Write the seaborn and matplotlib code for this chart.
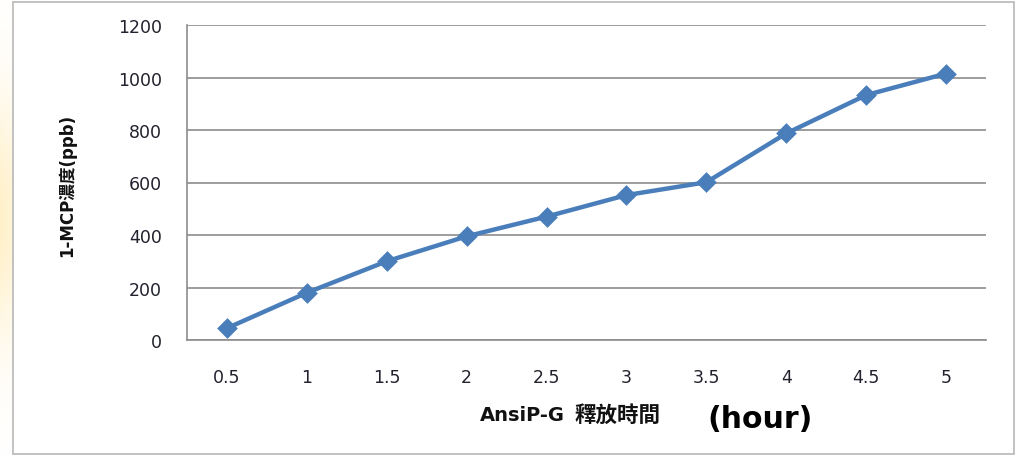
import matplotlib
matplotlib.use("Agg")
import matplotlib.pyplot as plt
import seaborn as sns
import pandas as pd
import numpy as np
from matplotlib.patches import Rectangle

# Release time (hour) and measured 1-MCP concentration (ppb)
hours = ["0.5", "1", "1.5", "2", "2.5", "3", "3.5", "4", "4.5", "5"]
conc_ppb = [45, 180, 300, 395, 470, 552, 601, 787, 933, 1015]
y_ticks = [0, 200, 400, 600, 800, 1000, 1200]

df = pd.DataFrame({"hour": hours, "ppb": conc_ppb})

sns.set_theme(style="white")
plt.rcParams["font.family"] = ["DejaVu Sans", "Noto Sans CJK TC"]

W, H = 1015, 456
fig = plt.figure(figsize=(W / 100, H / 100), dpi=100)

# soft warm glow on the slide background at the far left
bg = fig.add_axes([0, 0, 1, 1], zorder=-5)
bg.set_axis_off()
yy, xx = np.mgrid[0:H, 0:W]
glow = np.exp(-(((xx + 30) / 60.0) ** 2 + ((yy - 220) / 120.0) ** 2))
rgba = np.ones((H, W, 4))
rgba[..., 0] = 1.0
rgba[..., 1] = 0.88
rgba[..., 2] = 0.55
rgba[..., 3] = 0.6 * glow
bg.imshow(rgba, extent=[0, W, H, 0], aspect="auto")
bg.set_xlim(0, W)
bg.set_ylim(H, 0)

# chart frame
fig.patches.append(Rectangle((13 / W, 1 / H), 1001 / W, 452 / H,
                             transform=fig.transFigure, facecolor="white",
                             edgecolor="#b8b8b8", linewidth=1.2, zorder=-4))

ax = fig.add_axes([187 / W, (H - 341) / H, (986 - 187) / W, (341 - 26) / H])
ax.set_facecolor("none")

sns.pointplot(data=df, x="hour", y="ppb", ax=ax, color="#4a7ebb",
              markers="D", linestyles="-", errorbar=None,
              markersize=8, linewidth=3.2)

ax.set_ylim(0, 1200)
ax.set_yticks(y_ticks)
ax.set_xlim(-0.5, len(hours) - 0.5)
ax.yaxis.grid(True, color="#8c8c8c", linewidth=1.2)
ax.set_axisbelow(True)
for side in ["top", "right"]:
    ax.spines[side].set_visible(False)
for side in ["left", "bottom"]:
    ax.spines[side].set_color("#8c8c8c")
    ax.spines[side].set_linewidth(1.2)
ax.tick_params(axis="both", length=0, labelsize=12.5, labelcolor="#22222e")
ax.tick_params(axis="y", pad=18)
ax.tick_params(axis="x", pad=20)
ax.set_xlabel("")
ax.set_ylabel("")

fig.text(67 / W, 1 - 185 / H, "1-MCP濃度(ppb)", rotation=90, ha="center",
         va="center", fontsize=12, fontweight="bold", color="#111111")
fig.text(480 / W, 1 - 416 / H, "AnsiP-G", ha="left", va="center",
         fontsize=14, fontweight="bold", color="#111111")
fig.text(574 / W, 1 - 415 / H, "釋放時間", ha="left", va="center",
         fontsize=15.5, fontweight="bold", color="#111111")
fig.text(760 / W, 1 - 420 / H, "(hour)", ha="center", va="center",
         fontsize=21.5, fontweight="bold", color="#000000")

fig.savefig("out.png", dpi=100)
